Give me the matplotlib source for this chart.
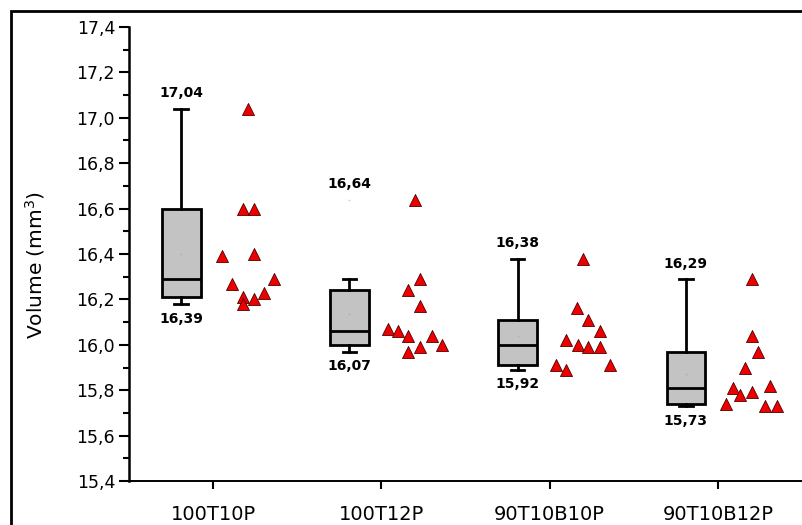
import numpy as np
import matplotlib.pyplot as plt
from matplotlib.patches import Rectangle
from matplotlib.ticker import MultipleLocator, FuncFormatter

groups = ['100T10P', '100T12P', '90T10B10P', '90T10B12P']

# volume of each specimen (mm3)
vol_100T10P = [17.04, 16.60, 16.60, 16.39, 16.40, 16.27, 16.21, 16.18, 16.20, 16.23, 16.29]
vol_100T12P = [16.64, 16.29, 16.24, 16.17, 16.07, 16.06, 16.04, 16.04, 16.00, 15.99, 15.97]
vol_90T10B10P = [16.38, 16.16, 16.11, 16.06, 16.02, 16.00, 15.99, 15.99, 15.91, 15.89, 15.91]
vol_90T10B12P = [16.29, 16.04, 15.97, 15.90, 15.81, 15.78, 15.79, 15.82, 15.74, 15.73, 15.73]
volumes = [vol_100T10P, vol_100T12P, vol_90T10B10P, vol_90T10B12P]

# labels written under each box
low_labels = ['16,39', '16,07', '15,92', '15,73']

# horizontal scatter of the points, right of each category
spread = [
    [0.21, 0.18, 0.24, 0.05, 0.24, 0.11, 0.18, 0.18, 0.24, 0.30, 0.36],
    [0.20, 0.23, 0.16, 0.23, 0.04, 0.10, 0.16, 0.30, 0.36, 0.23, 0.16],
    [0.20, 0.16, 0.23, 0.30, 0.10, 0.17, 0.23, 0.30, 0.04, 0.10, 0.36],
    [0.20, 0.20, 0.24, 0.16, 0.09, 0.13, 0.20, 0.31, 0.05, 0.28, 0.35],
]

box_shift = -0.19


def box_stats(v):
    v = np.asarray(v)
    q1, med, q3 = np.percentile(v, [25, 50, 75], method='weibull')
    iqr = q3 - q1
    lo, hi = q1 - 1.5 * iqr, q3 + 1.5 * iqr
    inside = v[(v >= lo) & (v <= hi)]
    return dict(med=med, q1=q1, q3=q3, mean=v.mean(),
                whislo=inside.min(), whishi=inside.max(),
                fliers=v[(v < lo) | (v > hi)])


fig = plt.figure(figsize=(8.02, 5.25), dpi=100)
ax = fig.add_axes([129 / 802, 1 - 481 / 525, 673 / 802, 454 / 525])

# outer frame
fig.patches.append(Rectangle((11 / 802, -0.1), 1.1, 1 - 11 / 525 + 0.1,
                             transform=fig.transFigure, fill=False,
                             edgecolor='black', linewidth=2, zorder=-1))

pos = np.arange(1, len(groups) + 1)
stats = [box_stats(v) for v in volumes]
ax.bxp(stats, positions=pos + box_shift, widths=0.23, capwidths=0.08,
       patch_artist=True, showmeans=True,
       boxprops=dict(facecolor='#c3c3c3', edgecolor='black', linewidth=2),
       medianprops=dict(color='black', linewidth=2),
       whiskerprops=dict(color='black', linewidth=2),
       capprops=dict(color='black', linewidth=2),
       meanprops=dict(marker='s', markersize=1.2, markerfacecolor='#b0b0b0',
                      markeredgecolor='none'),
       flierprops=dict(marker='_', markersize=2, markeredgecolor='#d0d0d0'))

for i, v in enumerate(volumes):
    ax.scatter(pos[i] + np.array(spread[i]), v, marker='^', s=75,
               facecolor='#ee0000', edgecolor='#500000', linewidth=0.6, zorder=3)
    st = stats[i]
    top = max(v)
    ax.annotate(f'{top:.2f}'.replace('.', ','), xy=(pos[i] + box_shift, top),
                xytext=(0, 11), textcoords='offset points', ha='center', va='center',
                fontsize=10, fontweight='bold', family='DejaVu Sans')
    ax.annotate(low_labels[i], xy=(pos[i] + box_shift, st['whislo']),
                xytext=(0, -10.5), textcoords='offset points', ha='center', va='center',
                fontsize=10, fontweight='bold', family='DejaVu Sans')

ax.set_xlim(0.5, 4.5)
ax.set_ylim(15.4, 17.4)
ax.set_xticks(pos)
ax.set_xticklabels(groups, fontsize=14, family='DejaVu Sans')
ax.yaxis.set_major_locator(MultipleLocator(0.2))
ax.yaxis.set_minor_locator(MultipleLocator(0.1))
ax.yaxis.set_major_formatter(FuncFormatter(lambda y, _: f'{y:.1f}'.replace('.', ',')))
for lab in ax.get_yticklabels():
    lab.set_family('DejaVu Sans')

ax.tick_params(axis='y', which='major', length=7, width=1.5, pad=3, labelsize=12.5)
ax.tick_params(axis='y', which='minor', length=4.5, width=1.5)
ax.tick_params(axis='x', length=6, width=1.5, pad=11, labelsize=14)

ax.spines['top'].set_visible(False)
ax.spines['right'].set_visible(False)
ax.spines['left'].set_linewidth(1.8)
ax.spines['bottom'].set_linewidth(1.4)

ax.set_ylabel('Volume (mm$^3$)', fontsize=14.5, family='DejaVu Sans')
ax.yaxis.set_label_coords(-0.122, 0.475)

plt.savefig('out.png', dpi=100)
